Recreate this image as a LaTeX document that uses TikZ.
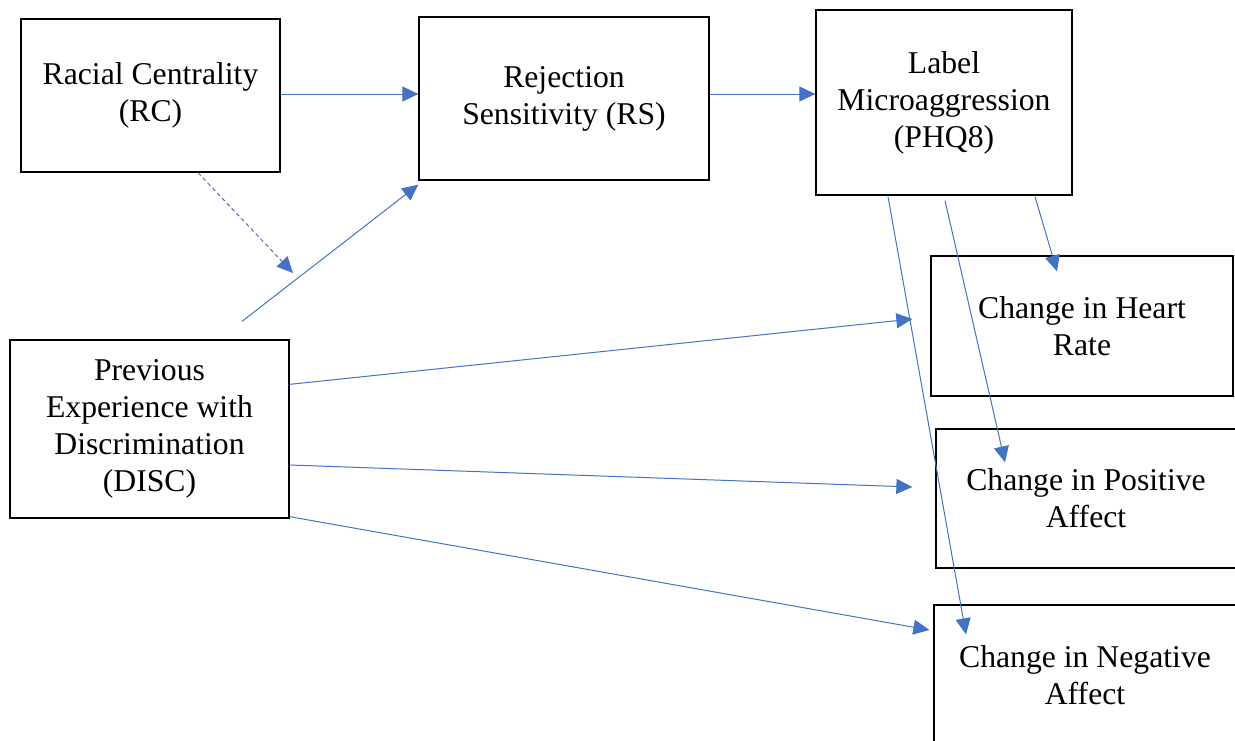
\documentclass[tikz,border=0pt]{standalone}
\usepackage{fontspec}
\setmainfont{Liberation Serif}
\usetikzlibrary{arrows.meta,calc}
\definecolor{pathblue}{HTML}{4472C4}

\begin{document}
\begin{tikzpicture}[x=0.5pt,y=-0.5pt,
    varbox/.style={draw=black, line width=0.65pt, inner sep=0pt, align=center,
      font=\fontsize{15.85}{18.5}\selectfont},
    pathline/.style={draw=pathblue, line width=0.5pt, -{Triangle[length=8pt,width=7.5pt]}}]
		\clip (0,0) rectangle (1235,740);
		\node[varbox, minimum width=129.5pt, minimum height=76.5pt] (rc) at (150.5,95.5) {Racial Centrality\\(RC)};
		\node[varbox, minimum width=145pt, minimum height=81.5pt] (rs) at (564,98.5) {Rejection\\Sensitivity (RS)};
		\node[varbox, minimum width=128pt, minimum height=92.5pt] (label) at (944,102.5) {Label\\Microaggression\\(PHQ8)};
		\node[varbox, minimum width=139.5pt, minimum height=89pt] (disc) at (149.5,429) {Previous\\Experience with\\Discrimination\\(DISC)};
		\node[varbox, minimum width=151pt, minimum height=70pt] (hr) at (1082,326) {Change in Heart\\Rate};
		\node[varbox, minimum width=150pt, minimum height=69.5pt] (pa) at (1086,498.5) {Change in Positive\\Affect};
		\node[varbox, minimum width=151pt, minimum height=70pt] (na) at (1085,675) {Change in Negative\\Affect};
		% free ends of the connectors
		\coordinate (mod) at (293,273);
		\coordinate (discup) at ($(disc.north)+(92.5,-18)$);
		\coordinate (rsin) at ($(rs.south west)+(0,4)$);
		\coordinate (hrin) at ($(hr.west)+(-18,-7)$);
		\coordinate (pain) at ($(pa.west)+(-23,-11.5)$);
		\coordinate (nain) at ($(na.west)+(-4,-45)$);
		\coordinate (hrtop) at ($(hr.north)+(-25,16)$);
		\coordinate (patop) at ($(pa.north)+(-81,34)$);
		\coordinate (natop) at ($(na.north)+(-119,30)$);
		\draw[pathline] ($(rc.east)+(0,-1.5)$) -- (rs.west |- {$(rc.east)+(0,-1.5)$});
		\draw[pathline] ($(rs.east)+(0,-4.5)$) -- (label.west |- {$(rs.east)+(0,-4.5)$});
		\draw[pathline, dash pattern=on 2pt off 1.5pt] ($(rc.south)+(47.5,0)$) -- (mod);
		\draw[pathline] (discup) -- (rsin);
		\draw[pathline] ($(disc.north east)+(0,45)$) -- (hrin);
		\draw[pathline] ($(disc.east)+(0,36)$) -- (pain);
		\draw[pathline] ($(disc.south east)+(0,-2)$) -- (nain);
		\draw[pathline] ($(label.south)+(91,1)$) -- (hrtop);
		\draw[pathline] ($(label.south)+(1,5)$) -- (patop);
		\draw[pathline] ($(label.south)+(-56,1)$) -- (natop);
	\end{tikzpicture}
\end{document}
